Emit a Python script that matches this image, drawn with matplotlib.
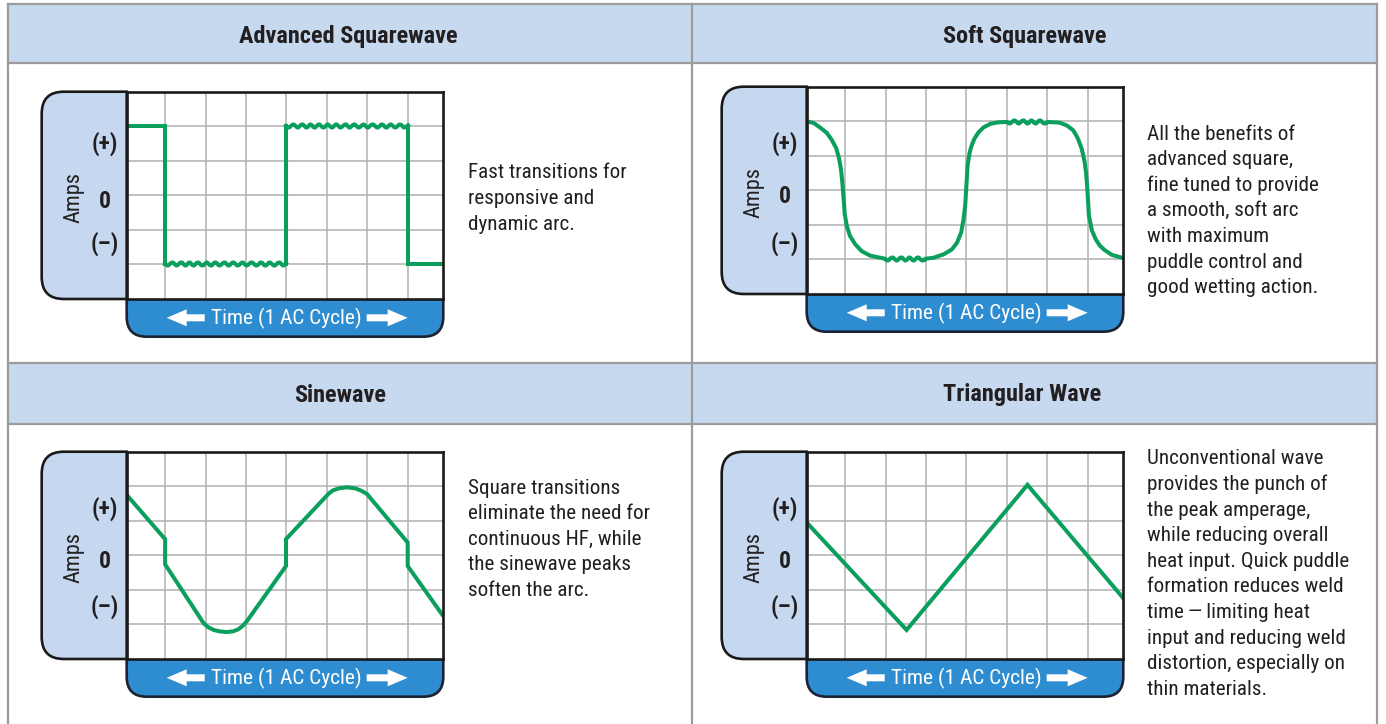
import matplotlib
matplotlib.use("Agg")
import matplotlib.pyplot as plt
from matplotlib import font_manager
from matplotlib.patches import Rectangle, FancyArrow, PathPatch
from matplotlib.path import Path

# ---- text ----
titles = ["Advanced Squarewave", "Soft Squarewave", "Sinewave", "Triangular Wave"]
descriptions = [
    ["Fast transitions for", "responsive and", "dynamic arc."],
    ["All the benefits of", "advanced square,", "fine tuned to provide",
     "a smooth, soft arc", "with maximum", "puddle control and",
     "good wetting action."],
    ["Square transitions", "eliminate the need for", "continuous HF, while",
     "the sinewave peaks", "soften the arc."],
    ["Unconventional wave", "provides the punch of", "the peak amperage,",
     "while reducing overall", "heat input. Quick puddle",
     "formation reduces weld", "time\u2009\u2014\u2009limiting heat",
     "input and reducing weld", "distortion, especially on", "thin materials."],
]
amp_labels = ["(+)", "0", "(\u2013)"]
time_label = "Time (1 AC Cycle)"

# ---- wave data (x in grid columns, y in grid rows, 0 = zero line) ----
square_x = [0.05, 1, 1, 4, 4, 7, 7, 7.88]
square_y = [2, 2, -2, -2, 2, 2, -2, -2]
square_ripple = [(1, 4), (4, 7)]

soft_x = [0.05, 0.22, 0.38, 0.55, 0.67, 0.78, 0.85, 0.90, 0.93, 0.95, 0.97, 0.99,
          1.04, 1.12, 1.25, 1.41, 1.62, 1.87, 1.99,
          2.98, 3.19, 3.44, 3.64, 3.77, 3.87, 3.93, 3.97, 3.99, 4.01, 4.03, 4.08,
          4.13, 4.20, 4.30, 4.42, 4.60, 4.80, 5.0,
          6.0, 6.30, 6.48, 6.64, 6.75, 6.85, 6.92, 6.96, 6.99, 7.01, 7.03, 7.10,
          7.20, 7.30, 7.42, 7.60, 7.88]
soft_y = [2.0, 1.95, 1.82, 1.66, 1.46, 1.22, 0.93, 0.59, 0.24, -0.05, -0.34, -0.68,
          -1.02, -1.32, -1.56, -1.76, -1.89, -1.95, -1.98,
          -1.98, -1.95, -1.85, -1.71, -1.51, -1.22, -0.83, -0.44, -0.05, 0.34, 0.73, 1.10,
          1.30, 1.50, 1.68, 1.82, 1.93, 1.97, 1.98,
          1.98, 1.96, 1.88, 1.74, 1.52, 1.21, 0.85, 0.50, 0.05, -0.34, -0.73, -1.15,
          -1.42, -1.60, -1.73, -1.87, -1.96]
soft_ripple = [(1.99, 2.98), (5.0, 6.0)]

sine_x = [0.05, 1, 1, 1.95, 2.05, 2.2, 2.35, 2.52, 2.68, 2.81, 2.92, 3.02,
          3.99, 3.99, 5.04, 5.15, 5.3, 5.5, 5.7, 5.85, 5.99, 7.0, 7.0, 7.88]
sine_y = [1.75, 0.47, -0.26, -1.96, -2.07, -2.16, -2.2, -2.22, -2.2, -2.14, -2.04, -1.91,
          -0.31, 0.47, 1.78, 1.88, 1.94, 1.97, 1.94, 1.87, 1.78, 0.37, -0.31, -1.76]

tri_x = [0.05, 2.52, 5.51, 7.88]
tri_y = [0.95, -2.16, 2.04, -1.24]

waves = [(square_x, square_y, square_ripple),
         (soft_x, soft_y, soft_ripple),
         (sine_x, sine_y, []),
         (tri_x, tri_y, [])]

# ---- layout (pixels) ----
W, H = 1386, 724
grid_pos = [(126.7, 91.7), (806.7, 86.7), (126.7, 451.7), (806.7, 451.7)]
GW, GH = 316.6, 207.3
TAB_W, BAR_H = 85, 37.7
title_pos = [(348, 36), (1025, 36), (340, 395), (1022, 395)]
desc_pos = [(468, 173), (1147, 134), (468, 488), (1147, 459)]
label_rows = [(1.5, -0.19, -1.39), (1.35, -0.19, -1.54),
              (1.35, -0.19, -1.5), (1.35, -0.19, -1.5)]

# pick a condensed face if one is installed
names = {f.name for f in font_manager.fontManager.ttflist}
dejavu_cond = any(f.name == "DejaVu Sans" and "ondensed" in f.fname
                  for f in font_manager.fontManager.ttflist)
if "Roboto Condensed" in names:
    FAM, STRETCH, SC = "Roboto Condensed", "normal", 1.0
elif "Liberation Sans Narrow" in names:
    FAM, STRETCH, SC = "Liberation Sans Narrow", "normal", 1.0
elif dejavu_cond:
    FAM, STRETCH, SC = "DejaVu Sans", "condensed", 0.95
else:
    FAM, STRETCH, SC = "Liberation Sans", "normal", 0.86
NARROW = [FAM, "DejaVu Sans"]

TXT = "#231f20"
GREEN = "#0a9f5c"
HEAD = "#c6d9ef"
BORDER = "#9c9c9c"

fig = plt.figure(figsize=(W / 100, H / 100), dpi=100)
bg = fig.add_axes([0, 0, 1, 1])
bg.set_xlim(0, W)
bg.set_ylim(H, 0)
bg.axis("off")

# header bands and cell borders
for y0, y1 in [(4, 63), (363, 424)]:
    bg.add_patch(Rectangle((8, y0), 1369, y1 - y0, facecolor=HEAD, edgecolor="none"))
for y in [4, 63, 363, 424]:
    bg.plot([8, 1377], [y, y], color=BORDER, lw=1.6)
for x in [8, 692, 1377]:
    bg.plot([x, x], [4, H], color=BORDER, lw=1.6)

C = Path.CURVE3
for i in range(4):
    gx, gy = grid_pos[i]
    tx, ty = title_pos[i]
    bg.text(tx, ty, titles[i], ha="center", va="center", fontsize=17.5 * SC,
            fontweight="bold", family=NARROW, fontstretch=STRETCH, color=TXT)
    dx, dy = desc_pos[i]
    for k, line in enumerate(descriptions[i]):
        bg.text(dx, dy + k * 25.6, line, ha="left", va="center", fontsize=15.2 * SC,
                family=NARROW, fontstretch=STRETCH, color=TXT)

    # light blue tab, rounded on the left only
    r = 22
    x0, y0, y1 = gx - TAB_W, gy, gy + GH
    tab = Path([(gx, y0), (x0 + r, y0), (x0, y0), (x0, y0 + r), (x0, y1 - r),
                (x0, y1), (x0 + r, y1), (gx, y1), (gx, y0)],
               [Path.MOVETO, Path.LINETO, C, C, Path.LINETO, C, C, Path.LINETO,
                Path.CLOSEPOLY])
    bg.add_patch(PathPatch(tab, facecolor="#c5d8ef", edgecolor="#1a1a1a", lw=1.9))

    # blue time bar, rounded at the bottom only
    r = 20
    b0, b1 = gy + GH, gy + GH + BAR_H
    bar = Path([(gx, b0), (gx, b1 - r), (gx, b1), (gx + r, b1), (gx + GW - r, b1),
                (gx + GW, b1), (gx + GW, b1 - r), (gx + GW, b0), (gx, b0)],
               [Path.MOVETO, Path.LINETO, C, C, Path.LINETO, C, C, Path.LINETO,
                Path.CLOSEPOLY])
    bg.add_patch(PathPatch(bar, facecolor="#2e8dd0", edgecolor="#1a2233", lw=1.9))

    yc = gy + GH + 18.8
    bg.text(gx + 160, yc + 1, time_label, ha="center", va="center", fontsize=15.4 * SC,
            family=NARROW, fontstretch=STRETCH, color="white")
    bg.add_patch(FancyArrow(gx + 78, yc, -38, 0, width=7, head_width=17,
                            head_length=20, length_includes_head=True,
                            color="white", lw=0))
    bg.add_patch(FancyArrow(gx + 240, yc, 41, 0, width=7, head_width=17,
                            head_length=20, length_includes_head=True,
                            color="white", lw=0))

    # oscilloscope grid
    ax = fig.add_axes([gx / W, 1 - (gy + GH) / H, GW / W, GH / H])
    ax.set_facecolor("white")
    ax.set_xlim(0.05, 7.88)
    ax.set_ylim(-3, 3)
    ax.set_xticks(range(1, 8))
    ax.set_yticks([-2, -1, 0, 1, 2])
    ax.tick_params(length=0, labelbottom=False, labelleft=False)
    ax.grid(color="#b0b0b0", lw=1.1)
    ax.set_axisbelow(True)
    for s in ax.spines.values():
        s.set_color("#1a1a1a")
        s.set_linewidth(1.9)

    ax.text(-0.167, -0.05, "Amps", rotation=90, ha="center", va="center",
            fontsize=16 * SC, family=NARROW, fontstretch=STRETCH, color=TXT,
            transform=ax.get_yaxis_transform(), clip_on=False)
    for lab, yv in zip(amp_labels, label_rows[i]):
        ax.text(-0.07, yv, lab, ha="center", va="center", fontsize=17 * SC,
                fontweight="bold", family=NARROW, fontstretch=STRETCH, color=TXT,
                transform=ax.get_yaxis_transform(), clip_on=False)

    # wave: split into plain runs and rippled flat runs
    xs, ys, ripple = waves[i]
    join = "round" if i == 1 else "miter"
    cap = "projecting" if i == 0 else "round"
    run_x, run_y = [xs[0]], [ys[0]]
    for j in range(len(xs) - 1):
        xa, xb = xs[j], xs[j + 1]
        noisy = ys[j] == ys[j + 1] and any(a <= xa and xb <= b for a, b in ripple)
        if noisy:
            if len(run_x) > 1:
                ax.plot(run_x, run_y, color=GREEN, lw=2.9, solid_joinstyle=join,
                        solid_capstyle=cap)
            ln, = ax.plot([xa, xb], [ys[j], ys[j + 1]], color=GREEN, lw=2.9,
                          solid_capstyle=cap)
            ln.set_sketch_params(1.6, 9, 1.3)
            run_x, run_y = [xb], [ys[j + 1]]
        else:
            run_x.append(xb)
            run_y.append(ys[j + 1])
    if len(run_x) > 1:
        ax.plot(run_x, run_y, color=GREEN, lw=2.9, solid_joinstyle=join,
                solid_capstyle=cap)

fig.savefig("out.png", dpi=100)
